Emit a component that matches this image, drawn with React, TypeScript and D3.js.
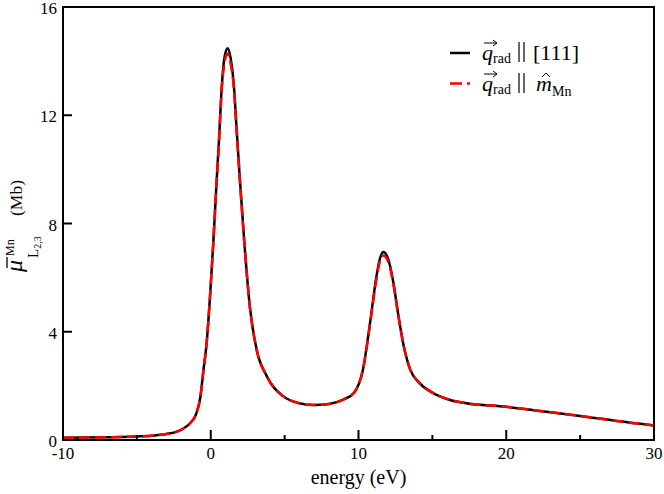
import React from "react";
import * as d3 from "d3";

// energy grid (eV) and absorption (Mb)
const energy = [
  -10, -7, -5, -4, -3, -2, -1.4, -1, -0.7, -0.5, -0.28, -0.05, 0.17, 0.39, 0.55, 0.75, 0.95, 1.15,
  1.35, 1.55, 1.75, 1.95, 2.3, 2.65, 3.1, 3.8, 4.9, 6, 7, 8, 9, 9.7, 10.3, 10.8, 11.2, 11.45,
  11.68, 12, 12.35, 12.7, 13.05, 13.5, 14.1, 15, 16.2, 17.3, 20, 22, 25, 27.5, 30,
];
const mu111 = [
  0.08, 0.1, 0.13, 0.16, 0.22, 0.38, 0.62, 0.95, 1.6, 2.55, 3.57, 5.3, 7.27, 9.49, 11.0, 13.1,
  14.2, 14.48, 14.1, 13.2, 11.5, 9.8, 7.1, 4.9, 3.35, 2.35, 1.62, 1.36, 1.29, 1.33, 1.5, 1.75,
  2.6, 4.4, 6.0, 6.7, 6.95, 6.7, 5.85, 4.6, 3.5, 2.6, 2.12, 1.75, 1.48, 1.36, 1.23, 1.09, 0.89,
  0.7, 0.54,
];
const muMn = [
  0.08, 0.1, 0.13, 0.16, 0.22, 0.38, 0.62, 0.95, 1.6, 2.55, 3.57, 5.3, 7.25, 9.45, 10.95, 13.0,
  14.0, 14.28, 13.9, 13.1, 11.45, 9.75, 7.1, 4.9, 3.35, 2.35, 1.62, 1.36, 1.29, 1.33, 1.5, 1.75,
  2.6, 4.35, 5.9, 6.6, 6.82, 6.6, 5.8, 4.58, 3.5, 2.6, 2.12, 1.75, 1.48, 1.36, 1.23, 1.09, 0.89,
  0.7, 0.54,
];
const xMajor = [-10, 0, 10, 20, 30];
const xMinor = [-5, 5, 15, 25];
const yMajor = [0, 4, 8, 12, 16];

const W = 664;
const H = 494;
const left = 63, right = 654, top = 7, bottom = 440;
const font = "'Liberation Serif', 'Times New Roman', serif";

function Arrow({ x, y, w }: { x: number; y: number; w: number }) {
  return (
    <g stroke="#000" strokeWidth={1} fill="none">
      <line x1={x} y1={y} x2={x + w} y2={y} />
      <path d={`M${x + w - 4},${y - 3} L${x + w},${y} L${x + w - 4},${y + 3}`} />
    </g>
  );
}

function QRad({ x, y }: { x: number; y: number }) {
  return (
    <g>
      <Arrow x={x + 2} y={y - 17} w={13} />
      <text x={x} y={y} fontSize={22} fontStyle="italic">q</text>
      <text x={x + 11} y={y + 3} fontSize={14}>rad</text>
    </g>
  );
}

function Parallel({ x, y }: { x: number; y: number }) {
  return (
    <g stroke="#000" strokeWidth={1.2}>
      <line x1={x} x2={x} y1={y - 18} y2={y + 2} />
      <line x1={x + 5} x2={x + 5} y1={y - 18} y2={y + 2} />
    </g>
  );
}

export default function App() {
  const x = d3.scaleLinear().domain([-10, 30]).range([left, right]);
  const y = d3.scaleLinear().domain([0, 16]).range([bottom, top]);
  const line = d3
    .line<number>()
    .x((_, i) => x(energy[i]))
    .y((d) => y(d))
    .curve(d3.curveMonotoneX);

  return (
    <svg
      width={W}
      height={H}
      style={{ position: "absolute", left: 0, top: 0, background: "#fff" }}
      fontFamily={font}
    >
      <path d={line(mu111) || ""} fill="none" stroke="#000" strokeWidth={2.5} />
      <path d={line(muMn) || ""} fill="none" stroke="#ff0000" strokeWidth={2.5} strokeDasharray="11,5" />

      {/* frame */}
      <rect x={left} y={top} width={right - left} height={bottom - top} fill="none" stroke="#000" strokeWidth={2} />

      {/* x ticks */}
      {xMajor.map((t) => (
        <g key={"xm" + t}>
          <line x1={x(t)} x2={x(t)} y1={bottom} y2={bottom - 10} stroke="#000" strokeWidth={2} />
          <text x={x(t)} y={bottom + 19} fontSize={17} textAnchor="middle">{t}</text>
        </g>
      ))}
      {xMinor.map((t) => (
        <line key={"xn" + t} x1={x(t)} x2={x(t)} y1={bottom} y2={bottom - 5} stroke="#000" strokeWidth={2} />
      ))}

      {/* y ticks */}
      {yMajor.map((t) => (
        <g key={"ym" + t}>
          <line x1={left} x2={left + 9} y1={y(t)} y2={y(t)} stroke="#000" strokeWidth={2} />
          <text x={left - 6} y={y(t) + 7} fontSize={17} textAnchor="end">{t}</text>
        </g>
      ))}

      <text x={(left + right) / 2} y={484} fontSize={20} textAnchor="middle">energy (eV)</text>

      {/* y label */}
      <g transform="translate(22,272) rotate(-90)">
        <text x={0} y={0} fontSize={24} fontStyle="italic">μ</text>
        <line x1={4} x2={15} y1={-15} y2={-15} stroke="#000" strokeWidth={1.3} />
        <text x={16} y={-8} fontSize={12}>Mn</text>
        <text x={14} y={16} fontSize={15}>
          L<tspan fontSize={10} dy={3}>2,3</tspan>
        </text>
        <text x={56} y={0} fontSize={17.5}>(Mb)</text>
      </g>

      {/* legend */}
      <line x1={450} x2={470} y1={53} y2={53} stroke="#000" strokeWidth={2.5} />
      <QRad x={482} y={60} />
      <Parallel x={519} y={60} />
      <text x={533} y={60} fontSize={22}>[111]</text>

      <line x1={450} x2={470} y1={83.5} y2={83.5} stroke="#ff0000" strokeWidth={2.5} strokeDasharray="12,5" />
      <QRad x={482} y={91} />
      <Parallel x={519} y={91} />
      <text x={536} y={91} fontSize={22} fontStyle="italic">m</text>
      <path d="M542,77 L546,73 L550,77" fill="none" stroke="#000" strokeWidth={1} />
      <text x={552} y={96} fontSize={14}>Mn</text>
    </svg>
  );
}
